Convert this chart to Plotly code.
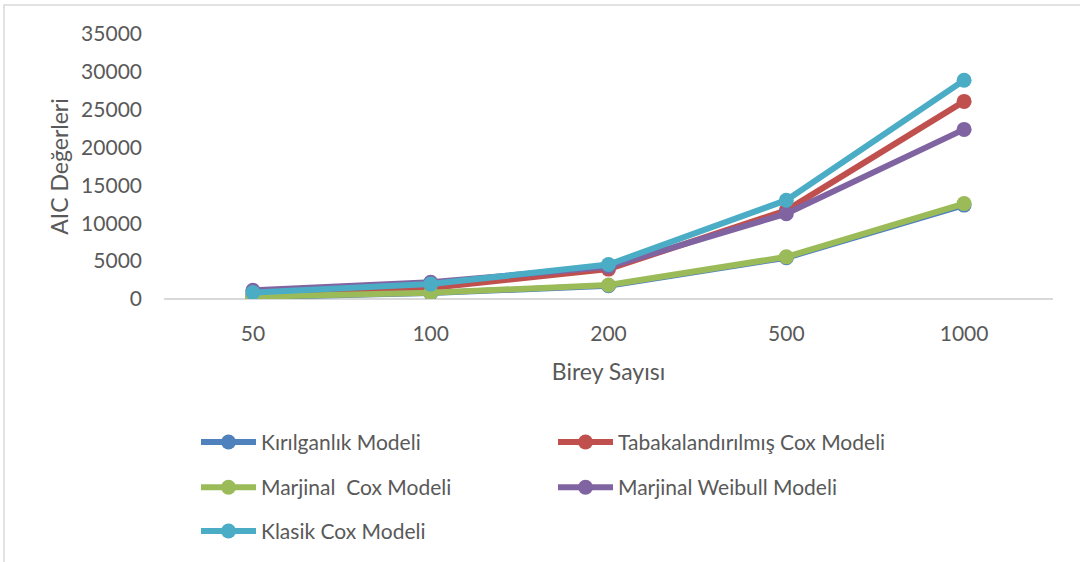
import plotly.graph_objects as go

# Sample sizes (category axis)
birey_sayisi = ["50", "100", "200", "500", "1000"]

# AIC values per model
kirilganlik = [250, 780, 1750, 5450, 12400]
tabakalandirilmis_cox = [600, 1450, 3950, 11700, 26100]
marjinal_cox = [300, 820, 1840, 5570, 12600]
marjinal_weibull = [1150, 2200, 4250, 11270, 22400]
klasik_cox = [850, 1970, 4550, 13050, 28900]

# name, values, colour, legend row
series = [
    ("Kırılganlık Modeli", kirilganlik, "#4F81BD", "legend"),
    ("Tabakalandırılmış Cox Modeli", tabakalandirilmis_cox, "#C0504D", "legend"),
    ("Marjinal  Cox Modeli", marjinal_cox, "#9BBB59", "legend2"),
    ("Marjinal Weibull Modeli", marjinal_weibull, "#8064A2", "legend2"),
    ("Klasik Cox Modeli", klasik_cox, "#4BACC6", "legend3"),
]

FONT = "Lato, Calibri, sans-serif"
TXT = "#595959"

fig = go.Figure()
for name, vals, col, leg in series:
    fig.add_trace(go.Scatter(
        x=birey_sayisi, y=vals, name=name, mode="lines+markers",
        line=dict(color=col, width=6),
        marker=dict(color=col, size=15),
        legend=leg,
    ))


def legend_row(ypos):
    return dict(
        orientation="h", x=0.036, xanchor="left", y=ypos, yanchor="middle",
        entrywidth=287, entrywidthmode="pixels", itemwidth=55,
        font=dict(family=FONT, size=21, color=TXT),
        bgcolor="rgba(0,0,0,0)", borderwidth=0,
    )


fig.update_layout(
    width=1080, height=562,
    margin=dict(l=164, r=27, t=34, b=262),
    paper_bgcolor="white", plot_bgcolor="white",
    font=dict(family=FONT, color=TXT, size=20),
    xaxis=dict(
        type="category", range=[-0.5, 4.5], showgrid=False,
        showline=False, zeroline=False, ticks="", ticklabelstandoff=20,
        tickfont=dict(size=21, color=TXT),
        title=dict(text="Birey Sayısı", font=dict(size=23, color=TXT), standoff=19),
    ),
    yaxis=dict(
        range=[0, 35000], dtick=5000, tickformat="d", showgrid=False,
        zeroline=True, zerolinecolor="#d9d9d9", zerolinewidth=1.5,
        showline=False, ticks="", ticklabelstandoff=21,
        tickfont=dict(size=21, color=TXT),
        title=dict(text="AIC Değerleri", font=dict(size=23, color=TXT), standoff=6),
    ),
    legend=legend_row(-0.535),
    legend2=legend_row(-0.705),
    legend3=legend_row(-0.87),
    showlegend=True,
)

# Chart frame
fig.add_shape(
    type="rect", xref="paper", yref="paper",
    x0=-0.18, x1=1.2, y0=-1.2, y1=1.109,
    line=dict(color="#d9d9d9", width=1.5), fillcolor="rgba(0,0,0,0)", layer="below",
)

fig.write_html("out.html")
